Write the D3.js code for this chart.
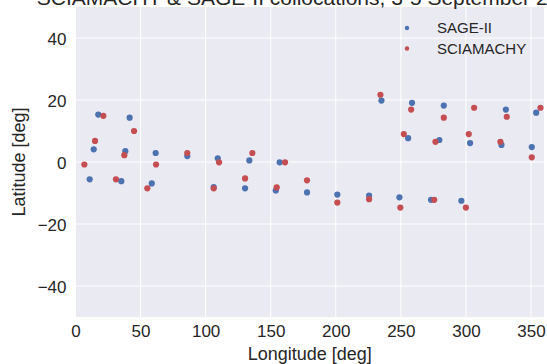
<!DOCTYPE html>
<html>
<head>
<meta charset="utf-8">
<script src="https://cdn.jsdelivr.net/npm/d3@7"></script>
<style>
  html, body { margin: 0; padding: 0; background: #fff; }
  svg text { font-family: "Liberation Sans", Arial, sans-serif; fill: #262626; }
</style>
</head>
<body>
<svg id="chart" width="547" height="364"></svg>
<script>
// SAGE-II collocation points (longitude, latitude)
const sageLon = [17.5, 41.6, 14.0, 38.3, 61.6, 85.9, 109.3, 133.6, 10.9, 35.2, 58.6, 106.2, 130.3,
  235.1, 156.9, 153.9, 177.9, 201.2, 225.6, 248.9,
  258.6, 283.0, 330.7, 354.0, 255.6, 279.6, 303.2, 327.3, 350.6, 273.2, 296.5];
const sageLat = [15.3, 14.3, 4.1, 3.5, 2.9, 1.9, 1.2, 0.5, -5.6, -6.2, -6.9, -8.1, -8.5,
  19.8, -0.1, -9.2, -9.8, -10.5, -10.8, -11.4,
  19.1, 18.2, 16.9, 15.9, 7.7, 7.1, 6.1, 5.5, 4.8, -12.2, -12.5];

// SCIAMACHY collocation points
const sciaLon = [21.4, 45.0, 15.0, 37.5, 85.9, 135.9, 6.8, 61.9, 110.3, 31.1, 55.2, 106.2, 130.3,
  234.3, 161.0, 154.6, 177.9, 201.2, 225.6, 249.6,
  257.9, 283.0, 306.3, 331.4, 357.3, 252.3, 276.6, 302.2, 326.5, 350.6, 275.6, 300.0];
const sciaLat = [14.9, 10.0, 6.8, 2.2, 2.9, 2.9, -0.8, -0.8, -0.1, -5.6, -8.5, -8.5, -5.3,
  21.7, -0.1, -8.2, -5.9, -13.1, -12.0, -14.7,
  16.9, 14.3, 17.5, 14.6, 17.5, 9.0, 6.5, 9.0, 6.5, 1.5, -12.2, -14.7];

const xTicks = [0, 50, 100, 150, 200, 250, 300, 350];
const yTicks = [-40, -20, 0, 20, 40];

const series = [
  { name: 'SAGE-II', lon: sageLon, lat: sageLat, color: '#4C72B0' },
  { name: 'SCIAMACHY', lon: sciaLon, lat: sciaLat, color: '#C44E52' }
];

const svg = d3.select('#chart');
const plot = { left: 75.5, right: 544, top: 7, bottom: 317 };

const x = d3.scaleLinear().domain([0, 360]).range([plot.left, plot.right]);
const y = d3.scaleLinear().domain([-50, 50]).range([plot.bottom, plot.top]);

// Axes background
svg.append('rect')
  .attr('x', plot.left)
  .attr('y', plot.top)
  .attr('width', plot.right - plot.left)
  .attr('height', plot.bottom - plot.top)
  .attr('fill', '#EAEAF2');

// Grid lines
const grid = svg.append('g').attr('class', 'grid');
grid.selectAll('.gx')
  .data(xTicks)
  .enter().append('line')
  .attr('x1', d => x(d)).attr('x2', d => x(d))
  .attr('y1', plot.top).attr('y2', plot.bottom)
  .attr('stroke', '#fff')
  .attr('stroke-width', 1);
grid.selectAll('.gy')
  .data(yTicks)
  .enter().append('line')
  .attr('x1', plot.left).attr('x2', plot.right)
  .attr('y1', d => y(d)).attr('y2', d => y(d))
  .attr('stroke', '#fff')
  .attr('stroke-width', 1);

// Tick labels (axes without domain/tick lines)
const fmt = d => d < 0 ? '\u2212' + Math.abs(d) : String(d);

const xAxis = svg.append('g')
  .attr('transform', `translate(0,${plot.bottom})`)
  .call(d3.axisBottom(x).tickValues(xTicks).tickFormat(fmt).tickSize(0).tickPadding(8));
xAxis.select('.domain').remove();
xAxis.selectAll('text')
  .style('font-size', '17px')
  .attr('dy', '0.71em');

const yAxis = svg.append('g')
  .attr('transform', `translate(${plot.left},0)`)
  .call(d3.axisLeft(y).tickValues(yTicks).tickFormat(fmt).tickSize(0).tickPadding(9));
yAxis.select('.domain').remove();
yAxis.selectAll('text')
  .style('font-size', '17px')
  .attr('dy', '0.36em');

// Points
series.forEach(s => {
  svg.append('g')
    .selectAll('circle')
    .data(d3.range(s.lon.length))
    .enter().append('circle')
    .attr('cx', i => x(s.lon[i]))
    .attr('cy', i => y(s.lat[i]))
    .attr('r', 3.1)
    .attr('fill', s.color);
});

// Legend
const legend = svg.append('g').attr('transform', 'translate(407,28)');
const item = legend.selectAll('g')
  .data(series)
  .enter().append('g')
  .attr('transform', (d, i) => `translate(0,${i * 20.5})`);
item.append('circle')
  .attr('r', 2.2)
  .attr('fill', d => d.color);
item.append('text')
  .attr('x', 30)
  .attr('dy', '0.36em')
  .style('font-size', '15px')
  .text(d => d.name);

// Title (runs past the top edge, as in the original)
const midX = (plot.left + plot.right) / 2;
svg.append('text')
  .attr('x', midX)
  .attr('y', 5)
  .attr('text-anchor', 'middle')
  .style('font-size', '21px')
  .text('SCIAMACHY & SAGE-II collocations, 3-5 September 2002');

// Axis labels
svg.append('text')
  .attr('x', midX)
  .attr('y', 360)
  .attr('text-anchor', 'middle')
  .style('font-size', '18px')
  .text('Longitude [deg]');

svg.append('text')
  .attr('transform', `translate(24.5,${y(0)}) rotate(-90)`)
  .attr('text-anchor', 'middle')
  .style('font-size', '18px')
  .text('Latitude [deg]');
</script>
</body>
</html>
